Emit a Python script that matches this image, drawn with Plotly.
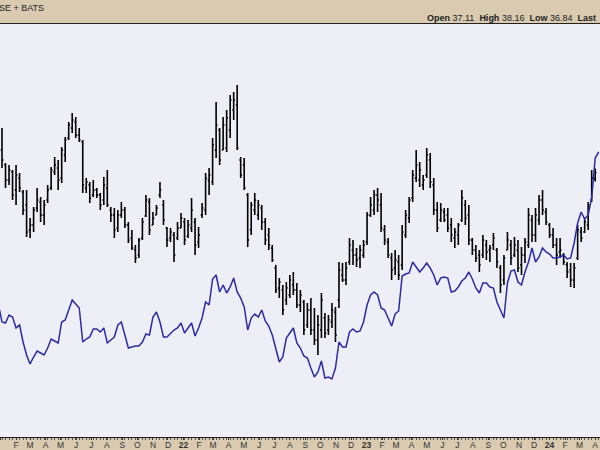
import plotly.graph_objects as go
import pandas as pd

# ---------------- data (weekly bars) ----------------
bar_dates = pd.date_range("2021-01-04", periods=170, freq="7D")
line_dates = pd.date_range("2020-12-28", periods=172, freq="7D")

opens = [
    40.0, 38.5, 37.0, 37.8, 36.0, 37.2, 35.8, 34.5, 32.0, 32.5,
    34.2, 34.8, 33.5, 35.0, 36.2, 37.8, 38.2, 37.2, 39.5, 41.2,
    42.2, 42.8, 41.5, 40.8, 36.2, 36.5, 35.5, 36.0, 35.5, 35.0,
    36.2, 34.0, 33.5, 32.2, 33.5, 34.0, 32.5, 31.2, 30.0, 29.5,
    31.2, 33.4, 34.8, 32.5, 33.5, 35.5, 34.5, 32.2, 31.2, 31.5,
    31.2, 32.2, 32.8, 31.4, 32.2, 32.8, 30.8, 33.5, 34.0, 37.0,
    36.8, 40.0, 42.0, 40.0, 40.2, 42.0, 44.0, 44.5, 39.0, 38.5,
    35.5, 32.0, 34.0, 33.5, 34.2, 32.8, 31.5, 30.2, 28.2, 26.2,
    26.0, 25.0, 25.5, 26.5, 26.0, 24.5, 24.8, 22.5, 24.0, 22.0,
    21.0, 22.0, 23.2, 22.0, 22.8, 23.8, 25.0, 27.5, 27.0, 28.8,
    30.0, 29.5, 29.2, 29.5, 30.8, 33.5, 34.0, 35.5, 34.5, 32.0,
    30.8, 29.2, 28.2, 28.8, 28.5, 31.5, 33.2, 35.2, 37.2, 37.0,
    36.5, 37.5, 39.0, 36.5, 34.0, 33.0, 33.8, 33.5, 32.5, 31.2,
    31.5, 33.0, 34.5, 33.5, 31.0, 30.0, 29.5, 29.5, 30.5, 30.0,
    30.5, 30.0, 28.2, 27.0, 30.0, 30.5, 29.5, 30.0, 28.5, 29.5,
    30.5, 33.0, 31.5, 33.0, 35.0, 33.8, 32.5, 31.5, 30.5, 29.8,
    29.5, 28.5, 28.0, 27.0, 29.2, 31.8, 31.8, 32.5, 35.0, 37.11,
]
highs = [
    42.2, 38.7, 38.5, 38.0, 38.5, 37.7, 36.0, 36.0, 33.2, 34.3,
    36.2, 35.3, 35.0, 36.5, 38.3, 39.3, 39.0, 40.3, 41.3, 42.8,
    43.7, 43.3, 42.2, 41.0, 37.2, 36.8, 37.0, 36.2, 35.7, 37.3,
    38.0, 34.3, 34.2, 34.0, 34.8, 34.3, 32.8, 32.0, 30.5, 31.2,
    33.2, 35.5, 35.2, 33.8, 34.5, 36.8, 35.0, 32.3, 32.2, 31.8,
    32.8, 33.7, 33.2, 33.0, 35.2, 33.2, 32.3, 34.7, 37.7, 38.2,
    41.2, 44.8, 42.2, 43.3, 44.0, 45.5, 45.8, 46.5, 39.3, 39.2,
    35.7, 34.8, 35.7, 35.0, 34.5, 33.2, 32.2, 30.5, 28.5, 27.2,
    26.5, 26.8, 27.5, 27.8, 26.7, 26.0, 25.0, 24.7, 25.2, 24.2,
    23.5, 25.7, 23.7, 23.5, 24.7, 24.3, 28.8, 28.7, 28.8, 31.2,
    31.0, 30.2, 30.5, 31.0, 33.8, 35.3, 36.0, 36.2, 35.7, 32.5,
    31.2, 29.7, 30.0, 29.5, 32.5, 34.0, 35.3, 38.0, 40.0, 38.8,
    37.5, 40.2, 39.7, 37.2, 34.8, 34.7, 34.2, 34.2, 33.2, 32.2,
    32.7, 36.0, 35.0, 34.5, 31.2, 30.5, 30.0, 31.5, 31.0, 30.5,
    31.7, 30.2, 28.5, 29.5, 31.8, 31.0, 31.3, 31.0, 30.3, 31.2,
    34.2, 33.5, 34.2, 35.5, 36.0, 34.2, 32.7, 32.2, 31.2, 31.2,
    29.7, 28.8, 28.7, 28.7, 32.5, 32.3, 33.2, 34.8, 38.0, 38.16,
]
lows = [
    38.2, 36.2, 36.5, 35.0, 34.5, 35.8, 33.5, 31.3, 31.2, 31.8,
    33.8, 32.8, 32.5, 34.7, 36.0, 37.5, 36.0, 36.7, 38.8, 41.0,
    41.7, 41.2, 40.8, 35.7, 35.7, 34.7, 35.3, 35.2, 34.0, 34.5,
    34.3, 32.8, 31.2, 31.8, 33.2, 32.2, 30.7, 30.0, 28.7, 29.2,
    31.0, 33.3, 31.5, 32.5, 33.5, 35.2, 32.5, 30.3, 30.8, 28.8,
    31.0, 32.2, 30.5, 31.2, 31.8, 29.5, 30.2, 33.2, 33.5, 35.5,
    36.5, 39.2, 38.5, 40.0, 39.8, 41.2, 43.0, 40.0, 37.2, 36.0,
    30.3, 31.5, 33.5, 33.0, 32.0, 30.5, 30.0, 28.8, 25.7, 25.2,
    23.5, 24.5, 25.2, 25.5, 24.2, 23.8, 21.5, 22.2, 21.5, 20.5,
    19.5, 21.2, 21.2, 21.5, 22.2, 20.8, 24.2, 26.8, 26.5, 28.5,
    28.5, 28.3, 28.2, 29.2, 30.5, 33.3, 33.5, 33.8, 31.8, 30.5,
    29.2, 27.0, 27.5, 27.0, 28.0, 31.2, 32.7, 34.8, 36.8, 36.3,
    36.0, 37.2, 36.2, 33.5, 31.8, 32.8, 32.8, 31.8, 30.8, 30.2,
    30.5, 32.8, 32.5, 30.5, 29.5, 28.8, 27.8, 29.2, 29.0, 28.8,
    30.0, 28.2, 25.7, 26.5, 30.0, 28.5, 29.3, 27.8, 27.5, 28.7,
    30.2, 30.8, 30.8, 32.5, 33.5, 32.5, 31.2, 30.2, 28.5, 29.2,
    28.5, 27.2, 26.3, 26.2, 29.0, 30.8, 31.7, 32.0, 34.8, 36.84,
]
closes = [
    39.0, 37.0, 38.0, 35.5, 37.5, 36.2, 34.0, 31.8, 32.5, 34.0,
    35.0, 33.5, 34.5, 36.0, 38.0, 38.5, 37.0, 40.0, 41.0, 42.5,
    43.0, 41.5, 41.0, 36.5, 36.8, 35.2, 36.0, 35.5, 34.5, 36.5,
    34.5, 33.5, 32.0, 33.5, 34.0, 32.5, 31.0, 30.2, 29.2, 31.0,
    32.8, 35.0, 32.0, 33.2, 34.2, 36.0, 33.0, 31.0, 31.8, 29.5,
    32.2, 33.2, 31.0, 32.5, 34.0, 30.5, 31.5, 34.2, 37.2, 37.5,
    40.5, 42.5, 39.0, 42.5, 43.2, 45.0, 45.0, 40.2, 37.5, 36.2,
    31.0, 34.5, 35.0, 34.5, 32.8, 31.0, 30.5, 29.0, 26.0, 26.8,
    24.0, 26.2, 27.0, 26.0, 24.5, 25.5, 22.0, 24.0, 22.0, 21.0,
    22.5, 25.0, 21.7, 23.0, 24.0, 21.5, 28.0, 27.0, 28.2, 30.5,
    29.5, 29.0, 30.0, 30.5, 33.5, 34.5, 35.5, 35.0, 32.2, 31.0,
    29.5, 28.0, 29.0, 27.5, 31.8, 33.5, 35.0, 37.5, 38.5, 38.0,
    37.0, 39.5, 36.8, 34.0, 32.2, 34.0, 33.0, 32.2, 31.5, 31.8,
    32.5, 35.2, 33.2, 31.0, 30.0, 29.2, 28.5, 31.0, 29.8, 30.2,
    31.2, 28.8, 26.5, 29.2, 31.0, 29.2, 30.5, 28.2, 29.5, 30.8,
    33.5, 31.5, 33.5, 35.0, 34.0, 32.8, 31.5, 30.5, 29.5, 30.0,
    28.8, 27.8, 27.0, 28.2, 32.0, 31.2, 32.8, 34.5, 37.2, 37.75,
]
comparison = [
    24.5,
    22.8, 22.7, 23.5, 23.3, 22.2, 22.5, 20.8, 19.5, 18.6, 19.3,
    19.9, 19.7, 19.5, 20.2, 21.1, 20.9, 20.7, 22.8, 23.0, 24.0,
    25.0, 24.6, 24.2, 20.8, 21.1, 21.3, 22.1, 22.1, 21.8, 22.2,
    20.7, 21.0, 21.3, 22.5, 22.8, 21.5, 20.2, 20.3, 20.4, 20.4,
    20.8, 21.6, 21.5, 23.3, 23.8, 22.8, 21.3, 21.3, 21.7, 22.0,
    22.2, 22.7, 21.7, 22.2, 22.7, 21.4, 22.2, 23.2, 24.8, 24.5,
    27.1, 27.5, 25.8, 26.5, 25.7, 26.3, 27.2, 25.8, 25.2, 24.3,
    22.0, 23.2, 23.6, 23.3, 24.0, 22.9, 22.4, 21.5, 20.0, 18.8,
    19.3, 21.2, 21.7, 22.2, 20.7, 20.2, 19.4, 19.2, 18.2, 17.3,
    17.8, 18.9, 17.2, 17.3, 17.1, 18.2, 20.8, 20.3, 20.3, 21.8,
    22.1, 21.8, 21.9, 22.8, 24.5, 25.5, 25.8, 25.5, 24.2, 24.0,
    23.2, 22.4, 23.6, 23.9, 27.4, 27.6, 27.7, 28.8, 28.3, 27.8,
    28.2, 28.7, 28.2, 27.5, 26.5, 27.2, 27.3, 27.2, 25.8, 25.9,
    26.3, 26.9, 27.2, 27.8, 27.1, 26.2, 25.7, 26.7, 26.7, 26.3,
    26.2, 24.8, 24.0, 23.2, 26.7, 27.9, 28.0, 26.8, 26.5, 27.8,
    28.8, 30.2, 28.8, 29.3, 30.2, 29.8, 29.6, 29.2, 29.2, 29.3,
    29.5, 29.1, 29.2, 30.7, 32.7, 33.8, 33.1, 33.5, 35.2, 39.2,
    39.8,
]

tick_dates = pd.date_range("2021-01-01", "2024-04-01", freq="MS")
tick_labels = [
    "<b>21</b>", "F", "M", "A", "M", "J", "J", "A", "S", "O", "N", "D",
    "<b>22</b>", "F", "M", "A", "M", "J", "J", "A", "S", "O", "N", "D",
    "<b>23</b>", "F", "M", "A", "M", "J", "J", "A", "S", "O", "N", "D",
    "<b>24</b>", "F", "M", "A",
]

header_left = "SE + BATS"
header_right = ("<b>Open</b> 37.11\u00a0\u00a0<b>High</b> 38.16\u00a0\u00a0"
                "<b>Low</b> 36.84\u00a0\u00a0<b>Last</b>")

# ---------------- figure ----------------
TAN = "#d9cab0"
PLOT_BG = "#eeeef7"
FONT = "Liberation Sans, Arial, sans-serif"

fig = go.Figure()
fig.add_trace(go.Ohlc(
    x=bar_dates, open=opens, high=highs, low=lows, close=closes,
    increasing=dict(line=dict(color="#000000", width=1.6)),
    decreasing=dict(line=dict(color="#000000", width=1.6)),
    tickwidth=0.4, hoverinfo="skip",
))
fig.add_trace(go.Scatter(
    x=line_dates, y=comparison, mode="lines",
    line=dict(color="#2b2ba6", width=1.5), hoverinfo="skip",
))

fig.update_layout(
    width=600, height=450,
    margin=dict(l=0, r=0, t=24, b=13, pad=0, autoexpand=False),
    paper_bgcolor=TAN, plot_bgcolor=PLOT_BG,
    showlegend=False,
    font=dict(family=FONT, size=8, color="#333333"),
    xaxis=dict(
        type="date",
        automargin=False,
        range=["2020-12-31", "2024-04-10 14:00"],
        rangeslider=dict(visible=False),
        tickvals=tick_dates, ticktext=tick_labels,
        ticks="outside", ticklen=2, tickcolor="#333333", tickwidth=1,
        ticklabelstandoff=-2,
        minor=dict(ticks="outside", ticklen=2, dtick=7 * 86400000,
                   tick0="2021-01-04", tickcolor="#555555", showgrid=False),
        showgrid=False, zeroline=False,
        showline=True, linecolor="#222222", linewidth=1, mirror=True,
        tickfont=dict(family=FONT, size=8.5, color="#333333"),
        fixedrange=True,
    ),
    yaxis=dict(
        automargin=False,
        range=[11.3, 52.6], showgrid=False, zeroline=False,
        showticklabels=False, ticks="", showline=False, fixedrange=True,
    ),
    annotations=[
        dict(text=header_left, xref="paper", yref="paper", x=0, y=1,
             xanchor="left", yanchor="middle", xshift=-3, yshift=16.5,
             showarrow=False, font=dict(family=FONT, size=9, color="#222222")),
        dict(text=header_right, xref="paper", yref="paper", x=425 / 600, y=1,
             xanchor="left", yanchor="middle", yshift=6.5,
             showarrow=False, font=dict(family=FONT, size=9, color="#222222")),
    ],
)

fig.write_html(
    "out.html",
    config={"displayModeBar": False, "staticPlot": True},
    post_script="document.body.style.margin='0';document.body.style.overflow='hidden';",
)
